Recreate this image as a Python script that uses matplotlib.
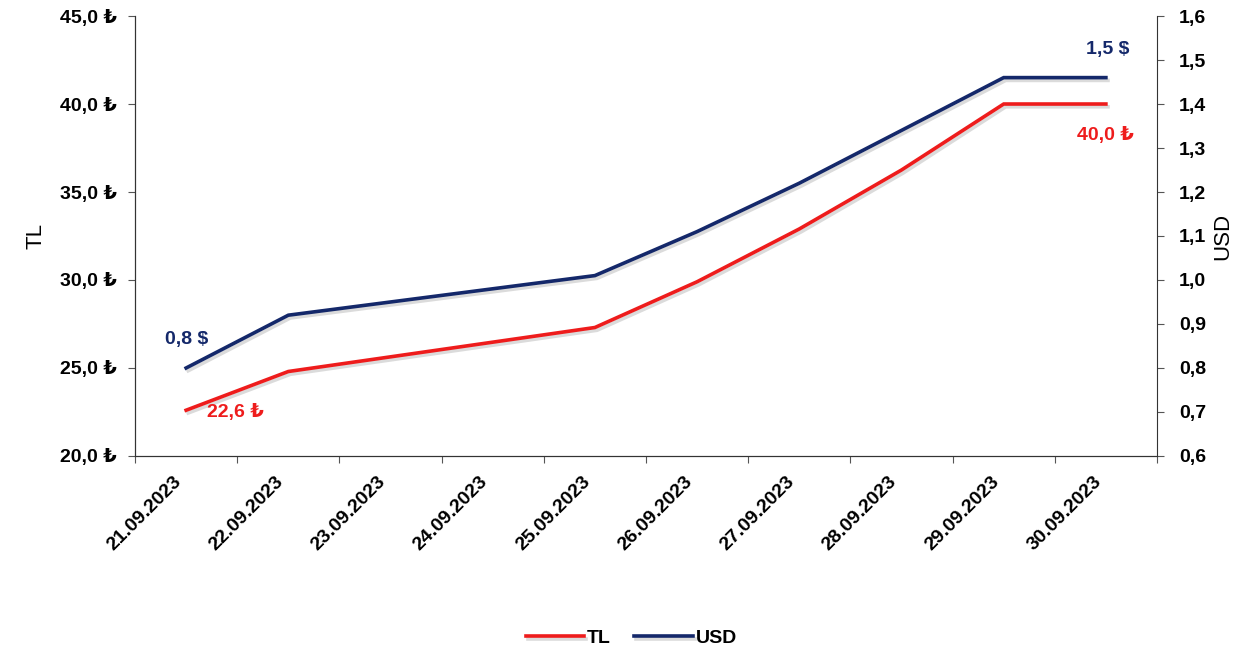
import numpy as np
import matplotlib
matplotlib.use('Agg')
import matplotlib.pyplot as plt
import matplotlib.patheffects as pe
from matplotlib.ticker import FuncFormatter, FixedLocator

plt.rcParams['font.family'] = ['Liberation Sans', 'DejaVu Sans']

dates = ['21.09.2023', '22.09.2023', '23.09.2023', '24.09.2023', '25.09.2023',
         '26.09.2023', '27.09.2023', '28.09.2023', '29.09.2023', '30.09.2023']
# weekend days have no quote, the line just joins the neighbours
tl = [22.6, 24.8, np.nan, np.nan, 27.3, 29.9, 32.9, 36.25, 40.0, 40.0]
usd = [0.80, 0.92, np.nan, np.nan, 1.01, 1.11, 1.22, 1.34, 1.46, 1.46]

red = '#ee1c1c'
navy = '#14286a'

fig = plt.figure(figsize=(12.55, 6.54), dpi=100)
ax = fig.add_axes([0.1076, 0.3028, 0.8143, 0.6727])
ax2 = ax.twinx()

x = np.arange(len(dates))
tl_arr = np.array(tl)
usd_arr = np.array(usd)
ok_tl = ~np.isnan(tl_arr)
ok_usd = ~np.isnan(usd_arr)

shadow = [pe.SimpleLineShadow(offset=(1.5, -2), shadow_color='#999999', alpha=0.35),
          pe.Normal()]
l1, = ax.plot(x[ok_tl], tl_arr[ok_tl], color=red, lw=2.6, label='TL',
              path_effects=shadow, solid_joinstyle='miter', zorder=3)
l2, = ax2.plot(x[ok_usd], usd_arr[ok_usd], color=navy, lw=2.6, label='USD',
               path_effects=shadow, solid_joinstyle='miter', zorder=3)

ax.set_xlim(-0.5, len(dates) - 0.5)
ax.set_ylim(20, 45)
ax2.set_ylim(0.6, 1.6)
ax.set_yticks(np.arange(20, 45.1, 5))
ax2.set_yticks(np.arange(0.6, 1.61, 0.1))

tick_font = dict(fontsize=14, fontweight='bold')
ax.yaxis.set_major_formatter(FuncFormatter(lambda v, p: ('%.1f ₺' % v).replace('.', ',')))
ax2.yaxis.set_major_formatter(FuncFormatter(lambda v, p: ('%.1f' % v).replace('.', ',')))
for lab in ax.get_yticklabels() + ax2.get_yticklabels():
    lab.set_fontsize(14)
    lab.set_fontweight('bold')

# tick marks on category borders, labels in the middle
# (label anchors nudged a bit left so the rotated text ends under the centre)
ax.xaxis.set_major_locator(FixedLocator(np.arange(-0.5, len(dates), 1)))
ax.xaxis.set_major_formatter(FuncFormatter(lambda v, p: ''))
ax.xaxis.set_minor_locator(FixedLocator(x - 0.13))
ax.set_xticklabels(dates, minor=True, rotation=45, ha='right', va='top',
                   rotation_mode='anchor', **tick_font)
ax.tick_params(axis='x', which='minor', length=0, pad=12)
ax.tick_params(axis='x', which='major', length=5, color='#555555')
ax.tick_params(axis='y', length=5, color='#555555', pad=8)
ax2.tick_params(axis='y', length=5, color='#555555', pad=11)

for a in (ax, ax2):
    a.spines['top'].set_visible(False)
    for s in ('left', 'right', 'bottom'):
        a.spines[s].set_color('#333333')
ax.spines['right'].set_visible(False)

ax.set_ylabel('TL', fontsize=16, labelpad=10)
ax2.set_ylabel('USD', fontsize=16, labelpad=4)

ax2.text(0, usd[0] + 0.045, '0,8 $', color=navy, ha='center', va='bottom', **tick_font)
ax.text(0.2, tl[0] - 0.15, '22,6 ₺', color=red, ha='left', va='center', **tick_font)
ax2.text(9.02, usd[-1] + 0.045, '1,5 $', color=navy, ha='center', va='bottom', **tick_font)
ax.text(9, tl[-1] - 1.3, '40,0 ₺', color=red, ha='center', va='top', **tick_font)

fig.legend(handles=[l1, l2], loc='center', bbox_to_anchor=(0.503, 0.024), ncol=2,
           frameon=False, handlelength=3.0, handletextpad=0.15, columnspacing=1.2,
           prop={'weight': 'bold', 'size': 14})

fig.savefig('out.png', dpi=100)
